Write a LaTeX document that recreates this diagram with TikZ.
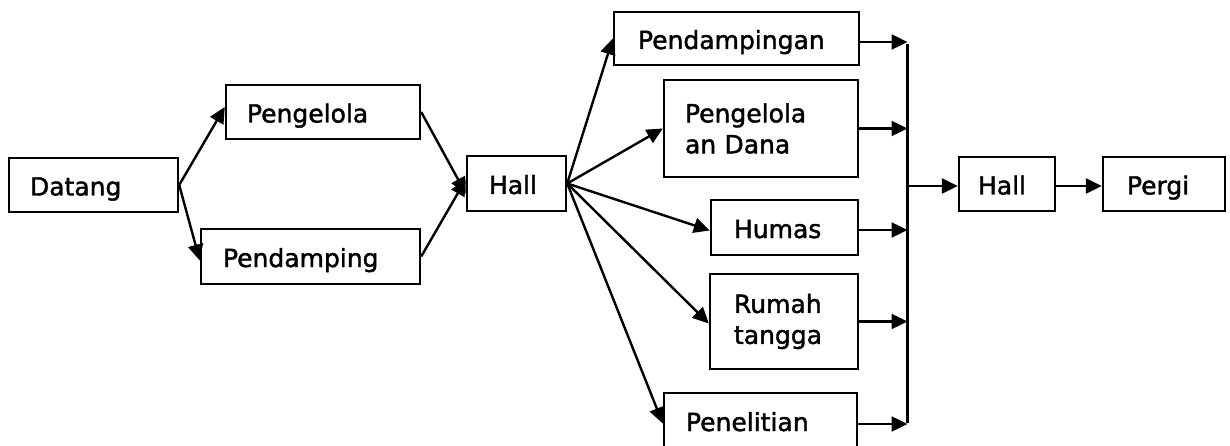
\documentclass[tikz,border=0pt]{standalone}
\usepackage{fontspec}
\setmainfont[FakeBold=1.6]{DejaVu Sans}
\usetikzlibrary{arrows.meta}
\begin{document}
\begin{tikzpicture}[x=1pt,y=-1pt,
  box/.style={draw,line width=2.4pt,rectangle,inner xsep=21pt,inner ysep=0pt,
    align=left,font=\fontsize{25}{31}\selectfont},
  oneline/.style={text height=21pt,text depth=0pt},
  arr/.style={line width=2.4pt,-{Triangle[length=16pt 0,width=15pt 0]}},
  ln/.style={line width=2.4pt}]
\useasboundingbox (0,0) rectangle (1230,446);
\clip (0,0) rectangle (1230,446);
% first stage
\node[box,oneline,text width=127pt,minimum height=54pt] (datang) at (93.5,185) {Datang};
\node[box,oneline,text width=152pt,minimum height=54pt] (peng) at (323,112) {Pengelola};
\node[box,oneline,text width=175pt,inner xsep=22pt,minimum height=55pt] (pend) at (310.5,256.5) {Pendamping};
\node[box,oneline,text width=55pt,inner xsep=22pt,minimum height=55pt] (hall) at (516.5,183.5) {Hall};
% divisions
\node[box,oneline,text width=197pt,inner xsep=24pt,minimum height=53pt] (pdg) at (736.5,38.5) {Pendampingan};
\node[box,text width=152pt,minimum height=97pt] (dana) at (761,128.5) {Pengelola\\an Dana};
\node[box,oneline,text width=101pt,inner xsep=23pt,minimum height=55pt] (humas) at (784.5,227.5) {Humas};
\node[box,text width=100pt,inner xsep=24pt,minimum height=95pt] (rt) at (784,321.5) {Rumah\\tangga};
\node[box,oneline,text width=149pt,inner xsep=22pt,minimum height=55pt] (pen) at (760.5,420.5) {Penelitian};
% exit
\node[box,oneline,text width=58pt,inner xsep=19pt,minimum height=54pt] (hall2) at (1007,184) {Hall};
\node[box,oneline,text width=74pt,inner xsep=24pt,minimum height=54pt] (pergi) at (1164,184) {Pergi};
\coordinate (bus) at (907.5,0);
% connectors
\draw[arr] (datang.east) -- ([yshift=5pt]peng.west);
\draw[arr] (datang.east) -- ([yshift=-4pt]pend.west);
\draw[arr] (peng.east) -- ([yshift=-10pt]hall.west);
\draw[arr] (pend.east) -- ([yshift=4pt]hall.west);
\draw[arr] (hall.east) -- (pdg.west);
\draw[arr] (hall.east) -- (dana.west);
\draw[arr] (hall.east) -- ([yshift=-3pt]humas.west);
\draw[arr] (hall.east) -- ([yshift=-2pt]rt.west);
\draw[arr] (hall.east) -- ([yshift=-3pt]pen.west);
\draw[arr] ([yshift=-3.5pt]pdg.east) -- ([yshift=-3.5pt]pdg.east -| bus);
\draw[arr] (dana.east) -- (dana.east -| bus);
\draw[arr] ([yshift=-2.5pt]humas.east) -- ([yshift=-2.5pt]humas.east -| bus);
\draw[arr] (rt.east) -- (rt.east -| bus);
\draw[arr] ([yshift=-3.5pt]pen.east) -- ([yshift=-3.5pt]pen.east -| bus);
\draw[ln] ([yshift=-6pt]pdg.east -| bus) -- ([yshift=-2pt]pen.east -| bus);
\draw[arr] ([yshift=-2pt]hall2.west -| bus) -- ([yshift=-2pt]hall2.west);
\draw[arr] ([yshift=-2pt]hall2.east) -- ([yshift=-2pt]pergi.west);
\end{tikzpicture}
\end{document}
